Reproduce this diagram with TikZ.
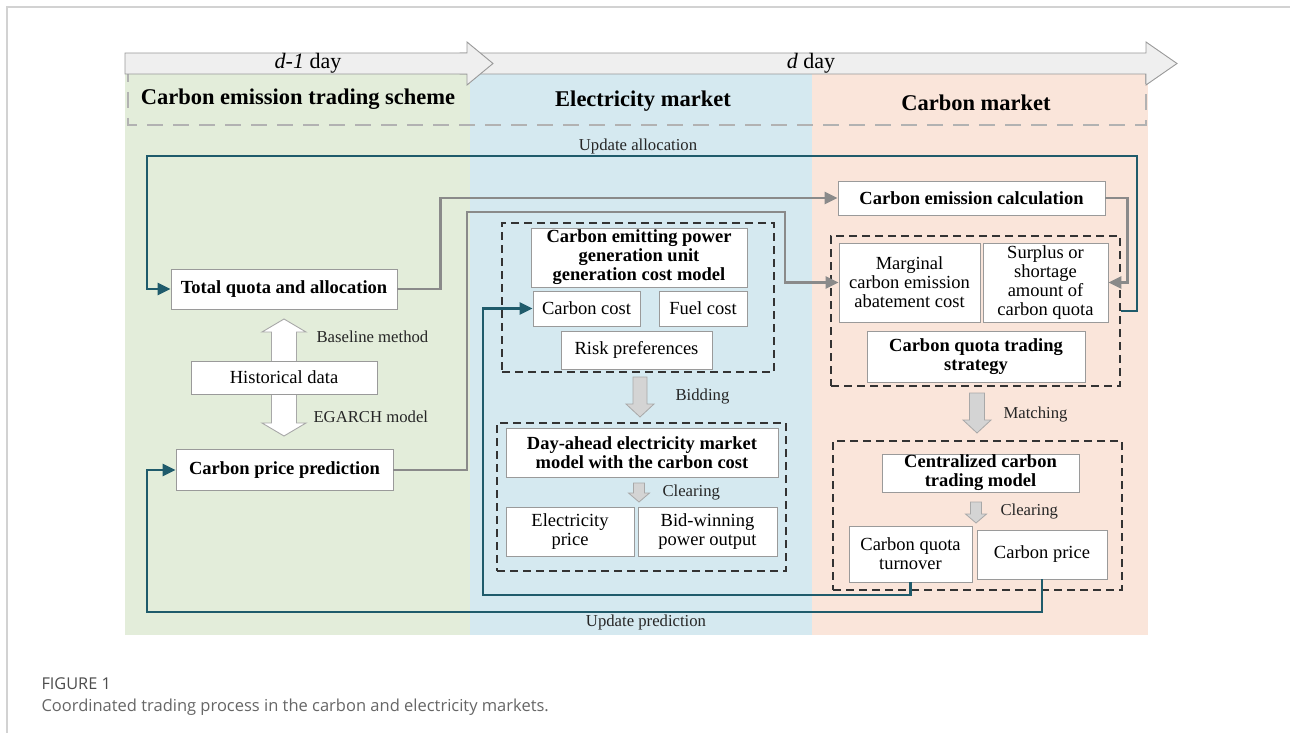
\documentclass[tikz,border=0pt]{standalone}
\usepackage{fontspec}
\setmainfont{Liberation Serif}
\newfontfamily\capfont{Open Sans}
\usepackage{xcolor}
\usetikzlibrary{arrows.meta}

\definecolor{greenbg}{HTML}{E3EDDA}
\definecolor{bluebg}{HTML}{D5E9F0}
\definecolor{orangebg}{HTML}{FAE5DA}
\definecolor{tealc}{HTML}{1F5B6B}
\definecolor{linegray}{HTML}{8A8A8A}
\definecolor{boxgray}{HTML}{9A9A9A}
\definecolor{blockfill}{HTML}{D4D4D4}
\definecolor{blockedge}{HTML}{A8A8A8}
\definecolor{bandfill}{HTML}{EFEFEF}

% gray block arrow pointing down: x, top, tip, shaft half, head half, head length
\newcommand{\grayarrow}[6]{%
  \draw[blockarrow] (#1-#4,#2) -- (#1+#4,#2) -- (#1+#4,#3-#6) -- (#1+#5,#3-#6)
    -- (#1,#3) -- (#1-#5,#3-#6) -- (#1-#4,#3-#6) -- cycle;}

\begin{document}
\begin{tikzpicture}[x=1pt,y=-1pt,
  box/.style={draw=boxgray, fill=white, line width=0.9pt, inner sep=0pt, align=center,
    font=\fontsize{18.5}{19}\selectfont},
  bbox/.style={box, font=\fontsize{18.5}{19}\selectfont\bfseries},
  grp/.style={draw=black!80, line width=1.3pt, dash pattern=on 8pt off 5pt, inner sep=0pt},
  tealarrow/.style={draw=tealc, line width=2.6pt, -{Triangle[length=13pt,width=12pt]}},
  grayconn/.style={draw=linegray, line width=2.6pt, -{Triangle[length=13pt,width=12pt]}},
  blockarrow/.style={fill=blockfill, draw=blockedge, line width=0.8pt},
  lbl/.style={font=\fontsize{16.7}{17}\selectfont, text=black!85},
  title/.style={font=\fontsize{22.5}{24}\selectfont\bfseries}]
  \useasboundingbox (0,0) rectangle (1290,733);

  % Frame of the figure
  \draw[gray!35, line width=1.2pt] (7,733) -- (7,7) -- (1290,7);

  % Three market panels
  \fill[greenbg] (125,74) rectangle (470,635);
  \fill[bluebg] (470,74) rectangle (812,635);
  \fill[orangebg] (812,74) rectangle (1148,635);
  \draw[gray!60, line width=2.5pt, dash pattern=on 16pt off 10pt] (128,66) rectangle (1146,125);

  % Day arrows on top
  \draw[fill=bandfill, draw=gray!80, line width=0.9pt] (460,53) -- (1146,53) -- (1146,42)
    -- (1177,63.5) -- (1146,85) -- (1146,74) -- (460,74) -- cycle;
  \draw[fill=bandfill, draw=gray!80, line width=0.9pt] (125,53) -- (467,53) -- (467,42)
    -- (493,63.5) -- (467,85) -- (467,74) -- (125,74) -- cycle;
  \node[font=\fontsize{22}{24}\selectfont] (dprev) at (308,63) {\textit{d-1} day};
  \node[font=\fontsize{22}{24}\selectfont] (dcur) at (811,63) {\textit{d} day};

  % Panel titles
  \node[title] (tscheme) at (298,99) {Carbon emission trading scheme};
  \node[title] (telec) at (643,101) {Electricity market};
  \node[title] (tcarbon) at (976,103) {Carbon market};

  % Carbon emission trading scheme
  \draw[fill=white, draw=blockedge, line width=0.9pt] (284,319) -- (306,332) -- (296.5,332)
    -- (296.5,423) -- (306,423) -- (284,436) -- (262,423) -- (271.5,423) -- (271.5,332)
    -- (262,332) -- cycle;
  \node[bbox, minimum width=226pt, minimum height=40pt] (quota) at (284,289) {Total quota and allocation};
  \node[box, minimum width=186pt, minimum height=33pt] (hist) at (284,377.5) {Historical data};
  \node[bbox, minimum width=217pt, minimum height=41pt] (pred) at (284.5,470) {Carbon price prediction};
  \node[lbl, anchor=west] (lbase) at (313,337) {Baseline method};
  \node[lbl, anchor=west] (legarch) at (310,417) {EGARCH model};

  % Electricity market
  \node[grp, minimum width=272pt, minimum height=149pt] (egrp1) at (638,297.5) {};
  \node[bbox, minimum width=216pt, minimum height=59pt] (costmodel) at (639,257.5)
    {Carbon emitting power\\generation unit\\generation cost model};
  \node[box, minimum width=107pt, minimum height=35pt] (ccost) at (586.5,308.5) {Carbon cost};
  \node[box, minimum width=88pt, minimum height=35pt] (fcost) at (703,308.5) {Fuel cost};
  \node[box, minimum width=151pt, minimum height=38pt] (risk) at (636.5,350) {Risk preferences};
  \grayarrow{640}{377}{417}{7}{14}{13}
  \node[lbl, anchor=west] (lbid) at (672,397) {Bidding};
  \node[grp, minimum width=289pt, minimum height=148pt] (egrp2) at (641.5,497) {};
  \node[bbox, minimum width=272pt, minimum height=49pt] (dayahead) at (642,452.5)
    {Day-ahead electricity market\\model with the carbon cost};
  \grayarrow{639}{483}{502}{5.5}{10.5}{9}
  \node[lbl, anchor=west] (lclear1) at (659,493) {Clearing};
  \node[box, minimum width=128pt, minimum height=49pt] (eprice) at (570,531.5) {Electricity\\price};
  \node[box, minimum width=139pt, minimum height=49pt] (bidwin) at (707.5,531.5) {Bid-winning\\power output};

  % Carbon market
  \node[bbox, minimum width=267pt, minimum height=34pt] (calc) at (971.5,198) {Carbon emission calculation};
  \node[grp, minimum width=289pt, minimum height=150pt] (cgrp1) at (975.5,311) {};
  \node[box, minimum width=141pt, minimum height=79pt] (marg) at (909.5,282.5)
    {Marginal\\carbon emission\\abatement cost};
  \node[box, minimum width=125pt, minimum height=79pt] (surp) at (1045.5,282.5)
    {Surplus or\\shortage\\amount of\\carbon quota};
  \node[bbox, minimum width=218pt, minimum height=51pt] (strat) at (976,356.5)
    {Carbon quota trading\\strategy};
  \grayarrow{977}{393}{433}{7.5}{14}{13}
  \node[lbl, anchor=west] (lmatch) at (1000,415) {Matching};
  \node[grp, minimum width=289pt, minimum height=149pt] (cgrp2) at (977.5,515.5) {};
  \node[bbox, minimum width=197pt, minimum height=38pt] (central) at (980.5,473)
    {Centralized carbon\\trading model};
  \grayarrow{976}{502}{523}{5.5}{10.5}{9}
  \node[lbl, anchor=west] (lclear2) at (997,512) {Clearing};
  \node[box, minimum width=123pt, minimum height=56pt] (turnover) at (910.5,554) {Carbon quota\\turnover};
  \node[box, minimum width=130pt, minimum height=49pt] (cprice) at (1042,554.5) {Carbon price};

  % Gray connectors
  \draw[grayconn] (quota.east) -- ++(43,0) |- (calc.west);
  \coordinate (gA) at (467,212);
  \coordinate (gB) at (785,212);
  \draw[grayconn] (pred.east) -| (gA) -- (gB) |- (marg.west);
  \draw[grayconn] (calc.east) -- ++(22,0) |- (surp.east);

  % Update loops
  \coordinate (upA) at (1137,156);
  \coordinate (leftA) at (147,156);
  \draw[tealarrow] (cgrp1.east) -| (upA) -- (leftA) |- (quota.west);
  \node[lbl] (lalloc) at (638,146) {Update allocation};
  \coordinate (botT) at (483,595);
  \draw[tealarrow] (turnover.south) |- (botT) |- (ccost.west);
  \coordinate (botP) at (147,612);
  \draw[tealarrow] (cprice.south) |- (botP) |- (pred.west);
  \node[lbl] (lpred) at (646,622) {Update prediction};

  % Caption
  \node[anchor=west, font=\capfont\fontsize{16.3}{18}\selectfont, text=black!70] (fig) at (38,684) {FIGURE 1};
  \node[anchor=west, font=\capfont\fontsize{16.5}{18}\selectfont, text=black!60] (cap) at (38,707)
    {Coordinated trading process in the carbon and electricity markets.};
\end{tikzpicture}
\end{document}
